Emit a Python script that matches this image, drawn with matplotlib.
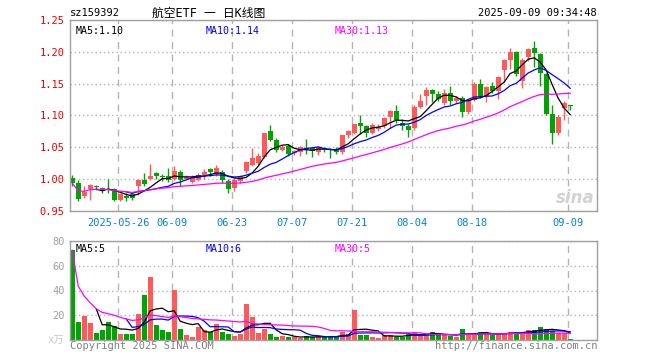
import numpy as np
import pandas as pd
import matplotlib
matplotlib.use("Agg")
import matplotlib.pyplot as plt

plt.rcParams['font.family'] = ['DejaVu Sans Mono', 'Noto Sans CJK SC']

# daily candles (price in yuan)
opens = [1.002, 0.994, 0.973, 0.984, 0.988, 0.986, 0.985, 0.984, 0.968, 0.974,
         0.976, 0.989, 0.999, 1.000, 1.009, 1.004, 1.005, 1.000, 1.012, 1.001,
         0.996, 0.999, 1.006, 1.016, 1.008, 1.012, 0.997, 0.986, 0.997, 1.013,
         1.023, 1.025, 1.035, 1.076, 1.062, 1.046, 1.052, 1.041, 1.042, 1.048,
         1.049, 1.043, 1.048, 1.048, 1.046, 1.042, 1.069, 1.073, 1.089, 1.083,
         1.073, 1.079, 1.084, 1.097, 1.107, 1.089, 1.083, 1.081, 1.114, 1.130,
         1.140, 1.134, 1.120, 1.136, 1.122, 1.127, 1.106, 1.125, 1.149, 1.131,
         1.147, 1.139, 1.171, 1.187, 1.199, 1.154, 1.192, 1.206, 1.196, 1.165,
         1.103, 1.073, 1.112, 1.117]
highs = [1.007, 0.999, 0.990, 0.993, 0.991, 0.987, 1.000, 0.986, 0.979, 0.979,
         0.979, 1.000, 1.010, 1.024, 1.011, 1.008, 1.017, 1.020, 1.014, 1.007,
         1.006, 1.010, 1.016, 1.018, 1.022, 1.014, 1.001, 1.002, 1.007, 1.029,
         1.049, 1.041, 1.073, 1.085, 1.065, 1.054, 1.055, 1.046, 1.052, 1.063,
         1.050, 1.051, 1.050, 1.049, 1.050, 1.070, 1.077, 1.087, 1.100, 1.085,
         1.088, 1.086, 1.098, 1.109, 1.117, 1.094, 1.087, 1.116, 1.133, 1.144,
         1.142, 1.138, 1.141, 1.146, 1.130, 1.130, 1.126, 1.152, 1.157, 1.147,
         1.153, 1.162, 1.188, 1.206, 1.202, 1.190, 1.206, 1.217, 1.198, 1.167,
         1.116, 1.100, 1.122, 1.117]
lows = [0.990, 0.966, 0.971, 0.967, 0.983, 0.978, 0.979, 0.966, 0.966, 0.965,
        0.967, 0.975, 0.990, 0.998, 1.001, 0.997, 0.996, 0.998, 0.989, 0.999,
        0.994, 0.997, 1.000, 1.005, 1.005, 0.994, 0.979, 0.982, 0.994, 1.009,
        1.020, 1.022, 1.033, 1.060, 1.043, 1.044, 1.036, 1.038, 1.036, 1.040,
        1.035, 1.038, 1.042, 1.034, 1.039, 1.040, 1.064, 1.071, 1.071, 1.067,
        1.071, 1.075, 1.081, 1.080, 1.089, 1.077, 1.066, 1.078, 1.111, 1.116,
        1.121, 1.123, 1.117, 1.117, 1.119, 1.098, 1.103, 1.122, 1.128, 1.121,
        1.135, 1.126, 1.152, 1.173, 1.162, 1.143, 1.186, 1.176, 1.146, 1.100,
        1.055, 1.070, 1.093, 1.108]
closes = [0.994, 0.969, 0.980, 0.991, 0.987, 0.982, 0.983, 0.968, 0.977, 0.970,
          0.970, 0.998, 0.993, 1.005, 1.005, 1.003, 0.999, 1.013, 0.999, 1.004,
          1.003, 1.006, 1.012, 1.011, 1.017, 0.999, 0.984, 0.999, 1.005, 1.027,
          1.034, 1.036, 1.072, 1.062, 1.046, 1.051, 1.040, 1.044, 1.050, 1.047,
          1.045, 1.050, 1.046, 1.046, 1.042, 1.069, 1.075, 1.086, 1.083, 1.073,
          1.085, 1.082, 1.096, 1.107, 1.093, 1.084, 1.077, 1.114, 1.123, 1.140,
          1.134, 1.126, 1.136, 1.122, 1.128, 1.106, 1.124, 1.150, 1.131, 1.145,
          1.139, 1.160, 1.187, 1.199, 1.165, 1.187, 1.204, 1.198, 1.166, 1.102,
          1.073, 1.097, 1.120, 1.115]
# volume, in 万
volumes = [72.5, 14.5, 19.4, 13.7, 5.9, 8.1, 14.5, 11.3, 4.8, 4.8,
           4.8, 21.0, 36.4, 51.0, 12.1, 8.1, 6.5, 40.4, 8.9, 4.0,
           2.4, 10.5, 8.1, 6.5, 12.9, 6.5, 4.8, 3.2, 4.8, 29.0,
           18.6, 6.0, 9.0, 4.8, 2.4, 3.2, 2.4, 2.4, 1.6, 3.2,
           2.4, 3.2, 2.4, 2.7, 3.0, 6.7, 4.8, 24.2, 4.0, 4.0,
           2.7, 1.9, 4.0, 4.0, 2.7, 2.7, 4.8, 6.7, 4.8, 4.0,
           6.5, 4.0, 4.0, 3.2, 2.4, 8.9, 4.8, 5.4, 6.5, 4.8,
           4.0, 4.8, 5.9, 6.5, 6.5, 5.9, 8.1, 8.1, 10.5, 8.9,
           7.5, 5.4, 5.4, 0.5]

tick_idx = [8, 17, 27, 37, 47, 57, 67, 83]
tick_labels = ["2025-05-26", "06-09", "06-23", "07-07", "07-21", "08-04", "08-18", "09-09"]
price_ticks = [0.95, 1.00, 1.05, 1.10, 1.15, 1.20, 1.25]
vol_ticks = [0, 20, 40, 60, 80]
vol_tick_labels = ["x万", "20", "40", "60", "80"]

UP = '#ff5a5a'
DOWN = '#00a400'
GRID = '#b4b4b4'
FRAME = '#a0a0a0'
FS = 7.2

o = np.array(opens); h = np.array(highs); l = np.array(lows); c = np.array(closes)
v = np.array(volumes)
n = len(c)
x = np.arange(n)
cols = np.where(c >= o, UP, DOWN)

cs = pd.Series(c)
ma5 = cs.rolling(5).mean()
ma10 = cs.rolling(10).mean()
ma30 = cs.rolling(30, min_periods=1).mean()
vs = pd.Series(v)
vma5 = vs.rolling(5).mean()
vma10 = vs.rolling(10).mean()
vma30 = vs.rolling(30, min_periods=1).mean()

fig = plt.figure(figsize=(6.6, 3.6), dpi=100)
ax1 = fig.add_axes([70/660, 1-211/360, 527/660, 191/360])
ax2 = fig.add_axes([70/660, 1-340/360, 527/660, 99/360])

xt = np.array(tick_idx) - 0.33
for ax in (ax1, ax2):
    ax.set_xlim(-0.37, 87.47)
    ax.set_xticks(xt)
    ax.tick_params(length=0)
    ax.grid(axis='x', color=GRID, linestyle=(0, (5, 4)), lw=1)
    ax.grid(axis='y', color=GRID, linestyle=(0, (1, 2)), lw=1)
    ax.set_axisbelow(True)
    for s in ax.spines.values():
        s.set_color(FRAME)
        s.set_linewidth(1.0)

# price panel
ax1.vlines(x, l, h, colors=cols, lw=1)
ax1.bar(x, np.maximum(np.abs(c - o), 0.0018), bottom=np.minimum(o, c),
        width=0.8, color=cols, linewidth=0)
ax1.plot(x, ma5, color='black', lw=0.9)
ax1.plot(x, ma10, color='#0000ff', lw=0.9)
ax1.plot(x, ma30, color='#ff00ff', lw=0.9)
ax1.set_ylim(0.95, 1.25)
ax1.set_yticks(price_ticks)
ax1.set_yticklabels(['%.2f' % t for t in price_ticks], color='#ee0000', fontsize=FS + 0.3)
ax1.tick_params(axis='y', pad=4)
ax1.set_xticklabels(tick_labels, color='#0a80d2', fontsize=FS + 0.3)
ax1.tick_params(axis='x', pad=5)

ax1.text(0.01, 0.97, 'MA5:1.10', transform=ax1.transAxes, fontsize=FS, va='top', color='black')
ax1.text(0.257, 0.97, 'MA10:1.14', transform=ax1.transAxes, fontsize=FS, va='top', color='#0000ff')
ax1.text(0.503, 0.97, 'MA30:1.13', transform=ax1.transAxes, fontsize=FS, va='top', color='#ff00ff')
ax1.text(0.995, 0.02, 'sina', transform=ax1.transAxes, fontsize=12, ha='right', va='bottom',
         color='#d2d2d2', style='italic', weight='bold', family='DejaVu Sans')

# volume panel
ax2.bar(x, v, width=0.8, color=cols, linewidth=0)
ax2.plot(x, vma5, color='black', lw=0.9)
ax2.plot(x, vma10, color='#0000ff', lw=0.9)
ax2.plot(x, vma30, color='#ff00ff', lw=0.9)
ax2.set_ylim(0, 80)
ax2.set_yticks(vol_ticks)
ax2.set_yticklabels(vol_tick_labels, color='#a0a0a0', fontsize=FS + 0.3)
ax2.get_yticklabels()[0].set_color('#c8c8c8')
ax2.tick_params(axis='y', pad=4)
ax2.set_xticklabels([])

ax2.text(0.01, 0.97, 'MA5:5', transform=ax2.transAxes, fontsize=FS, va='top', color='black')
ax2.text(0.257, 0.97, 'MA10:6', transform=ax2.transAxes, fontsize=FS, va='top', color='#0000ff')
ax2.text(0.503, 0.97, 'MA30:5', transform=ax2.transAxes, fontsize=FS, va='top', color='#ff00ff')

# header and footer
fig.text(70/660, 1-13/360, 'sz159392', fontsize=FS + 0.3, va='center', color='black')
fig.text(209/660, 1-13/360, '航空ETF 一 日K线图', fontsize=8.5, va='center', ha='center', color='black')
fig.text(597/660, 1-13/360, '2025-09-09 09:34:48', fontsize=FS + 0.3, va='center', ha='right', color='black')
fig.text(70/660, 1-346/360, 'Copyright 2025 SINA.COM', fontsize=FS + 0.3, va='center', color='#808080')
fig.text(597/660, 1-346/360, 'http://finance.sina.com.cn', fontsize=FS + 0.3, va='center', ha='right', color='#808080')

fig.savefig('out.png', dpi=100)
